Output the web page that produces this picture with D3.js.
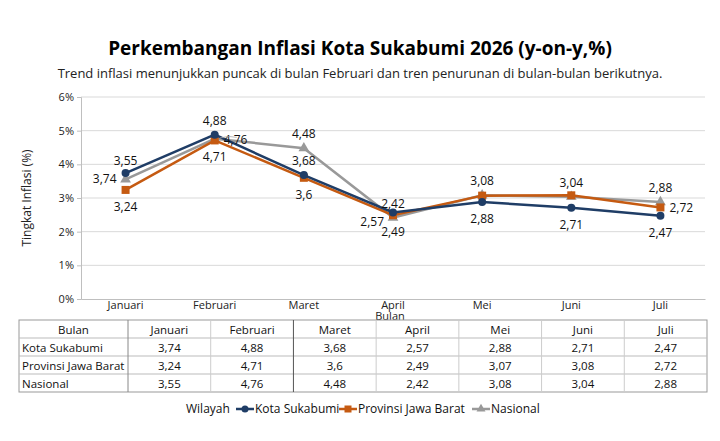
<!DOCTYPE html>
<html><head><meta charset="utf-8">
<script src="https://cdn.jsdelivr.net/npm/d3@7"></script>
<style>
body{margin:0;background:#fff;font-family:"Open Sans",sans-serif;}
</style></head><body>
<svg id="chart" width="720" height="441"></svg>
<script>
var months = ["Januari", "Februari", "Maret", "April", "Mei", "Juni", "Juli"];
var seriesNames = ["Kota Sukabumi", "Provinsi Jawa Barat", "Nasional"];
var kota = [3.74, 4.88, 3.68, 2.57, 2.88, 2.71, 2.47];
var jabar = [3.24, 4.71, 3.6, 2.49, 3.07, 3.08, 2.72];
var nasional = [3.55, 4.76, 4.48, 2.42, 3.08, 3.04, 2.88];
var yTicks = [0, 1, 2, 3, 4, 5, 6];

var colors = ["#1f3d66", "#c55a11", "#999999"];
// label placement per point: a=above, b=below, l=left, r=right, n=none
var labelPos = [
    ["l", "a", "a", "bl", "b", "b", "b"],
    ["b", "b", "b", "b", "n", "n", "r"],
    ["a", "r", "a", "a", "a", "a", "a"]
];
var allSeries = [kota, jabar, nasional];
var fmt = function(v) { return String(v).replace(".", ","); };

var svg = d3.select("#chart");
var margin = {left: 81, right: 705, top: 97, bottom: 299};

svg.append("text").attr("x", 360).attr("y", 55).attr("text-anchor", "middle")
    .style("font-size", "19px").style("font-weight", "bold")
    .text("Perkembangan Inflasi Kota Sukabumi 2026 (y-on-y,%)");
svg.append("text").attr("x", 360).attr("y", 78).attr("text-anchor", "middle")
    .style("font-size", "13px").attr("fill", "#222")
    .text("Trend inflasi menunjukkan puncak di bulan Februari dan tren penurunan di bulan-bulan berikutnya.");

var x = d3.scaleBand().domain(months).range([margin.left, margin.right]);
var y = d3.scaleLinear().domain([0, 6]).range([margin.bottom, margin.top]);

// grid
svg.append("g").selectAll("line").data(yTicks.slice(1)).enter().append("line")
    .attr("x1", margin.left).attr("x2", margin.right)
    .attr("y1", d => y(d)).attr("y2", d => y(d))
    .attr("stroke", "#d9d9d9");

var leftAxis = d3.axisLeft(y).tickValues(yTicks).tickFormat(d => d + "%").tickSize(4);
var yg = svg.append("g").attr("transform", `translate(${margin.left},0)`).call(leftAxis);
yg.select(".domain").attr("stroke", "#bfbfbf");
yg.selectAll(".tick line").attr("stroke", "#bfbfbf");
yg.selectAll("text").style("font-size", "11px").attr("fill", "#222")
    .style("font-family", "Open Sans");

var bottomAxis = d3.axisBottom(x).tickSize(0).tickPadding(2);
var xg = svg.append("g").attr("transform", `translate(0,${margin.bottom})`).call(bottomAxis);
xg.select(".domain").attr("stroke", "#bfbfbf");
xg.selectAll("text").style("font-size", "11px").attr("fill", "#222")
    .style("font-family", "Open Sans");

svg.append("text").attr("x", x("April") + x.bandwidth() / 2 - 3).attr("y", 320)
    .attr("text-anchor", "middle").style("font-size", "11px").attr("fill", "#222").text("Bulan");
svg.append("text").attr("transform", "translate(31,198) rotate(-90)")
    .attr("text-anchor", "middle").style("font-size", "12px").attr("fill", "#222")
    .text("Tingkat Inflasi (%)");

var cx = d => x(d) + x.bandwidth() / 2;
var line = d3.line().x((d, i) => cx(months[i])).y(d => y(d));

// draw order: gray under, orange, navy top
[2, 1, 0].forEach(function(s) {
    var vals = allSeries[s];
    svg.append("path").datum(vals).attr("d", line)
        .attr("fill", "none").attr("stroke", colors[s]).attr("stroke-width", 2.5);
    var g = svg.append("g");
    vals.forEach(function(v, i) {
        var px = cx(months[i]), py = y(v);
        if (s === 0) g.append("circle").attr("cx", px).attr("cy", py).attr("r", 4).attr("fill", colors[s]);
        else if (s === 1) g.append("rect").attr("x", px - 4).attr("y", py - 4).attr("width", 8).attr("height", 8).attr("fill", colors[s]);
        else g.append("path").attr("d", d3.symbol(d3.symbolTriangle, 50)()).attr("transform", `translate(${px},${py})`).attr("fill", colors[s]);
    });
});

allSeries.forEach(function(vals, s) {
    vals.forEach(function(v, i) {
        var p = labelPos[s][i];
        if (p === "n") return;
        var px = cx(months[i]), py = y(v), dx = 0, dy = 0, anchor = "middle";
        if (p === "a") dy = -10;
        if (p === "b") dy = 21;
        if (p === "l") { dx = -9; dy = 10; anchor = "end"; }
        if (p === "r") { dx = 9; dy = 5; anchor = "start"; }
        if (p === "bl") { dx = -9; dy = 14; anchor = "end"; }
        if (s === 2 && i === 0) dy = -14;
        svg.append("text").attr("x", px + dx).attr("y", py + dy).attr("text-anchor", anchor)
            .style("font-size", "12px").attr("fill", "#111").text(fmt(v));
    });
});
// leader line for Nasional Februari label
svg.append("path").attr("d", `M${cx("Februari") + 5},${y(4.78)} Q${cx("Februari") + 14},${y(4.87)} ${cx("Februari") + 22},${y(4.8)}`)
    .attr("fill", "none").attr("stroke", "#aaa").attr("stroke-width", 0.8);

// data table
var tx0 = 19, tx1 = 707, tyTop = 320, rowH = 18, firstW = 109;
var colX = d3.scaleBand().domain(months).range([tx0 + firstW, tx1]);
var rows = [["Bulan"].concat(months)].concat(seriesNames.map((n, s) => [n].concat(allSeries[s].map(fmt))));
var tg = svg.append("g");
tg.append("rect").attr("x", tx0).attr("y", tyTop).attr("width", tx1 - tx0).attr("height", rowH * 4)
    .attr("fill", "none").attr("stroke", "#999");
for (var r = 1; r < 4; r++)
    tg.append("line").attr("x1", tx0).attr("x2", tx1).attr("y1", tyTop + r * rowH).attr("y2", tyTop + r * rowH).attr("stroke", "#bbb");
tg.append("line").attr("x1", tx0 + firstW).attr("x2", tx0 + firstW).attr("y1", tyTop).attr("y2", tyTop + 4 * rowH).attr("stroke", "#888");
months.slice(1).forEach(function(m) {
    tg.append("line").attr("x1", colX(m)).attr("x2", colX(m)).attr("y1", tyTop).attr("y2", tyTop + 4 * rowH)
        .attr("stroke", m === "Maret" ? "#555" : "#ccc");
});
rows.forEach(function(row, r) {
    row.forEach(function(c, j) {
        var isFirst = j === 0;
        var tx = isFirst ? (r === 0 ? tx0 + firstW / 2 : tx0 + 3) : colX(months[j - 1]) + colX.bandwidth() / 2;
        tg.append("text").attr("x", tx).attr("y", tyTop + r * rowH + 13.5)
            .attr("text-anchor", isFirst && r > 0 ? "start" : "middle")
            .style("font-size", "11.5px").attr("fill", "#111").text(c);
    });
});

// legend
var lg = svg.append("g").attr("transform", "translate(0,409)");
lg.append("text").attr("x", 186).attr("y", 4).style("font-size", "12px").attr("fill", "#111").text("Wilayah");
var lx = [236, 339, 472];
seriesNames.forEach(function(n, s) {
    var px = lx[s];
    lg.append("line").attr("x1", px).attr("x2", px + 18).attr("y1", 0).attr("y2", 0).attr("stroke", colors[s]).attr("stroke-width", 2.5);
    if (s === 0) lg.append("circle").attr("cx", px + 9).attr("cy", 0).attr("r", 3.5).attr("fill", colors[s]);
    else if (s === 1) lg.append("rect").attr("x", px + 5.5).attr("y", -3.5).attr("width", 7).attr("height", 7).attr("fill", colors[s]);
    else lg.append("path").attr("d", d3.symbol(d3.symbolTriangle, 35)()).attr("transform", `translate(${px + 9},0)`).attr("fill", colors[s]);
    lg.append("text").attr("x", px + 19).attr("y", 4).style("font-size", "12px").attr("fill", "#111").text(n);
});
</script>
</body></html>
